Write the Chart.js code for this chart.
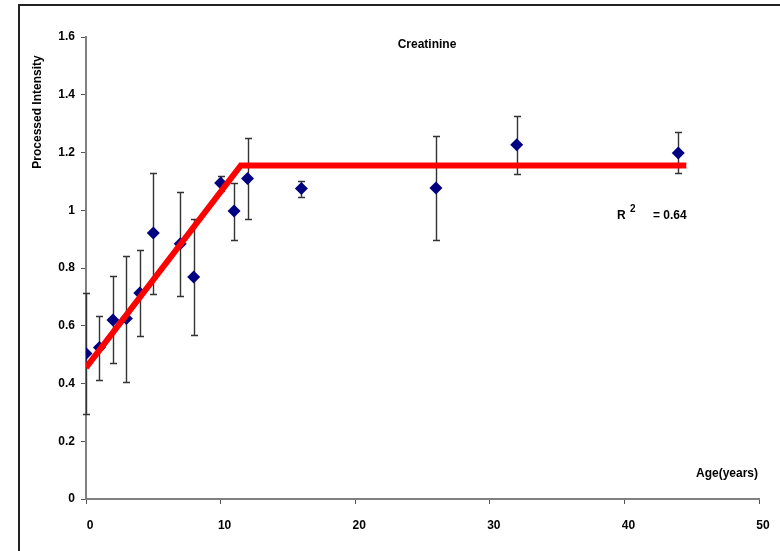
<!DOCTYPE html>
<html>
<head>
<meta charset="utf-8">
<script src="https://cdn.jsdelivr.net/npm/chart.js@4/dist/chart.umd.min.js"></script>
<style>
  html, body { margin: 0; padding: 0; background: #fff; }
  canvas { display: block; }
</style>
</head>
<body>
<canvas id="chart" width="780" height="551"></canvas>
<script>
// measured values
const ages  = [0, 1, 2, 3, 4, 5, 7, 8, 10, 11, 12, 16, 26, 32, 44];
const means = [0.504, 0.525, 0.62, 0.625, 0.713, 0.921, 0.884, 0.769, 1.094, 0.997, 1.11, 1.075, 1.077, 1.227, 1.198];
const upper = [0.713, 0.635, 0.771, 0.843, 0.862, 1.13, 1.064, 0.968, 1.12, 1.096, 1.25, 1.103, 1.257, 1.326, 1.27];
const lower = [0.294, 0.413, 0.472, 0.404, 0.563, 0.711, 0.704, 0.568, 1.068, 0.898, 0.971, 1.045, 0.898, 1.127, 1.128];

// broken-stick fit
const fitX = [0, 11.5, 44.6];
const fitY = [0.455, 1.155, 1.155];

const xTicks = [0, 10, 20, 30, 40, 50];
const yTicks = [0, 0.2, 0.4, 0.6, 0.8, 1, 1.2, 1.4, 1.6];

const FONT = '"Liberation Sans", Arial, sans-serif';

// error bars drawn under the markers
const errorBars = {
  id: 'errorBars',
  beforeDatasetsDraw(chart) {
    const ctx = chart.ctx;
    const x = chart.scales.x, y = chart.scales.y;
    ctx.save();
    ctx.strokeStyle = '#333';
    ctx.lineWidth = 1.4;
    ages.forEach((a, i) => {
      const px = Math.round(x.getPixelForValue(a)) + 0.5;
      const top = Math.round(y.getPixelForValue(upper[i])) + 0.5;
      const bot = Math.round(y.getPixelForValue(lower[i])) + 0.5;
      ctx.beginPath();
      ctx.moveTo(px, top); ctx.lineTo(px, bot);
      ctx.moveTo(px - 3.5, top); ctx.lineTo(px + 3.5, top);
      ctx.moveTo(px - 3.5, bot); ctx.lineTo(px + 3.5, bot);
      ctx.stroke();
    });
    ctx.restore();
  }
};

// frame and free text (title, axis captions, R2)
const labels = {
  id: 'labels',
  afterDraw(chart) {
    const ctx = chart.ctx;
    ctx.save();
    ctx.strokeStyle = '#222';
    ctx.lineWidth = 2;
    ctx.strokeRect(19, 5, 800, 600);

    ctx.fillStyle = '#000';
    ctx.font = 'bold 12px ' + FONT;
    ctx.textBaseline = 'middle';
    ctx.textAlign = 'center';
    ctx.fillText('Creatinine', 427, 45);

    ctx.textAlign = 'right';
    ctx.fillText('Age(years)', 758, 474);

    ctx.textAlign = 'left';
    ctx.fillText('R', 617, 216);
    ctx.font = 'bold 10px ' + FONT;
    ctx.fillText('2', 630, 209);
    ctx.font = 'bold 12px ' + FONT;
    ctx.fillText('= 0.64', 653, 216);

    ctx.translate(38, 112);
    ctx.rotate(-Math.PI / 2);
    ctx.textAlign = 'center';
    ctx.fillText('Processed Intensity', 0, 0);
    ctx.restore();
  }
};

new Chart(document.getElementById('chart'), {
  type: 'scatter',
  data: {
    datasets: [
      {
        type: 'line',
        label: 'fit',
        data: fitX.map((v, i) => ({ x: v, y: fitY[i] })),
        borderColor: '#FF0000',
        borderWidth: 6,
        pointRadius: 0,
        fill: false,
        tension: 0,
        order: 0
      },
      {
        label: 'Creatinine',
        data: ages.map((a, i) => ({ x: a, y: means[i] })),
        pointStyle: 'rectRot',
        pointRadius: 6.5,
        backgroundColor: '#000080',
        borderColor: '#000080',
        borderWidth: 0,
        order: 1
      }
    ]
  },
  options: {
    responsive: false,
    animation: false,
    layout: { padding: { left: 0, top: 37, right: 21, bottom: 0 } },
    plugins: { legend: { display: false }, tooltip: { enabled: false } },
    scales: {
      x: {
        type: 'linear',
        min: 0,
        max: 50,
        afterFit(scale) { scale.height = 52; },
        afterBuildTicks(scale) { scale.ticks = xTicks.map(v => ({ value: v })); },
        border: { display: true, color: '#808080', width: 2 },
        grid: { display: true, drawOnChartArea: false, drawTicks: true, tickLength: 5, color: '#555' },
        ticks: { color: '#000', padding: 14, labelOffset: 4, font: { family: FONT, size: 12, weight: 'bold' } }
      },
      y: {
        type: 'linear',
        min: 0,
        max: 1.6,
        afterFit(scale) { scale.width = 86; },
        afterBuildTicks(scale) { scale.ticks = yTicks.map(v => ({ value: v })); },
        border: { display: true, color: '#808080', width: 2 },
        grid: { display: true, drawOnChartArea: false, drawTicks: true, tickLength: 5, color: '#555' },
        ticks: {
          color: '#000',
          padding: 6,
          font: { family: FONT, size: 12, weight: 'bold' },
          callback: v => String(Number(v.toFixed(1)))
        }
      }
    }
  },
  plugins: [errorBars, labels]
});
</script>
</body>
</html>
